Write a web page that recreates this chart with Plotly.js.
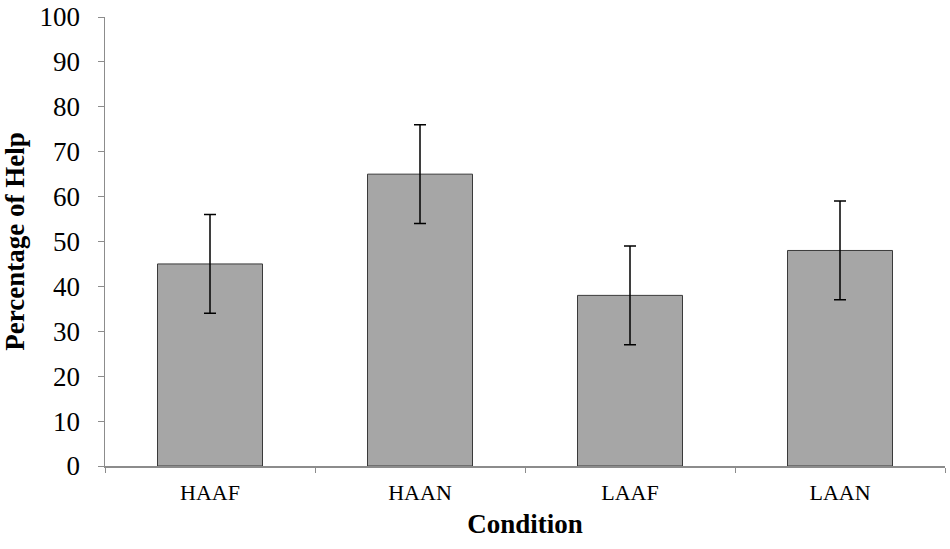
<!DOCTYPE html>
<html>
<head>
<meta charset="utf-8">
<script src="https://cdn.plot.ly/plotly-3.0.1.min.js"></script>
<style>
  html, body { margin: 0; padding: 0; background: #fff; }
  #chart { width: 950px; height: 549px; }
</style>
</head>
<body>
<div id="chart"></div>
<script>
// values
var conditions = ["HAAF", "HAAN", "LAAF", "LAAN"];
var helpPct = [45, 65, 38, 48];
var helpErr = [11, 11, 11, 11];

var serif = "Liberation Serif, Times New Roman, serif";

var data = [{
  type: "bar",
  x: conditions,
  y: helpPct,
  marker: {
    color: "#a6a6a6",
    line: { color: "#3a3a3a", width: 1 }
  },
  error_y: {
    type: "data",
    array: helpErr,
    visible: true,
    color: "#000",
    thickness: 1.5,
    width: 6
  },
  hoverinfo: "x+y"
}];

var layout = {
  width: 950,
  height: 549,
  margin: { l: 105, r: 5, t: 17, b: 83 },
  paper_bgcolor: "#fff",
  plot_bgcolor: "#fff",
  bargap: 0.5,
  showlegend: false,
  font: { family: serif, color: "#000" },
  xaxis: {
    type: "category",
    showline: true,
    linecolor: "#8c8c8c",
    linewidth: 1.5,
    ticks: "outside",
    tickson: "boundaries",
    ticklen: 5,
    tickcolor: "#8c8c8c",
    showgrid: false,
    ticklabelstandoff: 6,
    tickfont: { family: serif, size: 22 },
    title: {
      text: "<b>Condition</b>",
      font: { family: serif, size: 27 },
      standoff: 10
    }
  },
  yaxis: {
    range: [0, 100],
    dtick: 10,
    showline: true,
    linecolor: "#8c8c8c",
    linewidth: 1.5,
    ticks: "outside",
    ticklen: 6,
    tickcolor: "#8c8c8c",
    showgrid: false,
    zeroline: false,
    ticklabelstandoff: 12,
    tickfont: { family: serif, size: 27 },
    title: {
      text: "<b>Percentage of Help</b>",
      font: { family: serif, size: 27 },
      standoff: 10
    }
  }
};

Plotly.newPlot("chart", data, layout, { displayModeBar: false, staticPlot: true });
</script>
</body>
</html>
